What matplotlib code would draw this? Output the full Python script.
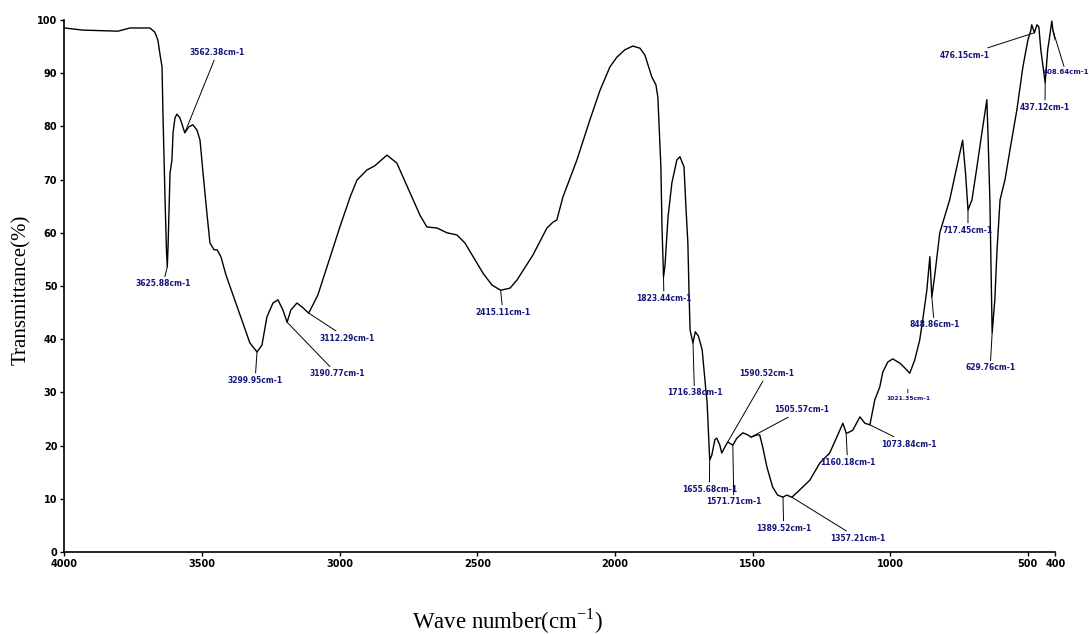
import numpy as np
import matplotlib
matplotlib.use('Agg')
import matplotlib.pyplot as plt

# FTIR spectrum, traced as (wavenumber, transmittance) pairs, high -> low cm-1
wavenumber = [4000, 3932, 3805, 3790, 3761, 3689, 3671, 3660, 3652, 3645,
              3642, 3634, 3629, 3625.88, 3623, 3616, 3609, 3605, 3598, 3591,
              3580, 3562.38, 3548, 3533, 3518, 3507, 3496, 3482, 3471, 3456,
              3445, 3431, 3413, 3387, 3351, 3326, 3299.95, 3282, 3264, 3242,
              3224, 3206, 3190.77, 3177, 3155, 3133, 3112.29, 3079, 3046, 2999,
              2962, 2937, 2901, 2872, 2828, 2792, 2744, 2708, 2683, 2646,
              2610, 2574, 2545, 2508, 2479, 2447, 2415.11, 2381, 2356, 2298,
              2247, 2225, 2211, 2189, 2138, 2091, 2054, 2018, 1993, 1964,
              1935, 1909, 1891, 1866, 1851, 1844, 1840, 1833, 1829, 1823.44,
              1818, 1807, 1793, 1775, 1764, 1749, 1742, 1735, 1731, 1727,
              1716.38, 1708, 1697, 1683, 1673, 1665, 1659, 1655.68, 1648, 1637,
              1630, 1619, 1612, 1601, 1590, 1579, 1571.71, 1557, 1535, 1517,
              1505.57, 1484, 1474, 1463, 1448, 1427, 1409, 1389.52, 1376, 1357.21,
              1328, 1292, 1256, 1220, 1194, 1172, 1160.18, 1154, 1136, 1110,
              1092, 1073.84, 1056, 1038, 1027, 1009, 991, 965, 947, 929,
              911, 893, 882, 867, 856, 848.86, 838, 820, 784, 758,
              737, 726, 717.45, 703, 685, 667, 649, 645, 638, 629.76,
              620, 612, 601, 583, 565, 540, 518, 500, 489, 486,
              476.15, 467, 460, 453, 437.12, 428, 420, 413, 408.64, 400]
transmittance = [98.5, 98.1, 97.9, 98.1, 98.5, 98.5, 97.7, 96.2, 93.4, 91.2,
                 83.1, 66.2, 56.8, 53.6, 57.7, 71.2, 73.7, 78.8, 81.6, 82.3,
                 81.6, 78.8, 79.9, 80.3, 79.3, 77.4, 71.2, 63.7, 58.1, 56.8,
                 56.8, 55.5, 52.1, 48.3, 43.0, 39.3, 37.6, 38.9, 44.2, 46.8,
                 47.4, 45.5, 43.2, 45.5, 46.8, 45.9, 44.9, 48.3, 53.6, 61.1,
                 66.7, 69.9, 71.8, 72.6, 74.6, 73.1, 67.5, 63.3, 61.1, 60.9,
                 60.0, 59.6, 58.1, 54.9, 52.4, 50.2, 49.2, 49.6, 51.1, 55.8,
                 60.9, 62.0, 62.4, 66.7, 73.7, 81.2, 86.8, 91.2, 93.0, 94.4,
                 95.1, 94.7, 93.4, 89.3, 87.8, 85.5, 80.6, 72.4, 61.1, 51.7,
                 53.9, 63.0, 69.4, 73.7, 74.3, 72.4, 64.8, 58.1, 49.2, 41.7,
                 39.3, 41.4, 40.6, 38.0, 32.3, 28.0, 21.1, 17.3, 18.2, 21.1,
                 21.4, 20.1, 18.6, 19.7, 20.7, 20.3, 20.1, 21.4, 22.4, 22.0,
                 21.6, 22.0, 22.0, 19.7, 16.0, 12.2, 10.7, 10.3, 10.7, 10.3,
                 11.7, 13.5, 16.7, 18.6, 21.6, 24.2, 22.4, 22.4, 22.9, 25.4,
                 24.2, 23.9, 28.6, 31.0, 33.8, 35.7, 36.3, 35.5, 34.6, 33.6,
                 36.1, 39.8, 43.6, 49.2, 55.5, 47.9, 52.1, 60.0, 66.2, 72.4,
                 77.4, 70.9, 64.3, 66.2, 72.4, 78.8, 85.0, 78.8, 66.2, 41.2,
                 47.4, 56.8, 66.2, 70.0, 75.6, 83.1, 91.2, 96.2, 98.1, 99.1,
                 97.6, 99.1, 98.7, 94.4, 88.2, 94.4, 97.2, 99.8, 98.0, 96.2]

# peak labels and the wavenumber each one points at
peak_labels = ['3625.88cm-1', '3562.38cm-1', '3299.95cm-1', '3190.77cm-1',
               '3112.29cm-1', '2415.11cm-1', '1823.44cm-1', '1716.38cm-1',
               '1655.68cm-1', '1571.71cm-1', '1590.52cm-1', '1505.57cm-1',
               '1389.52cm-1', '1357.21cm-1', '1160.18cm-1', '1073.84cm-1',
               '848.86cm-1', '717.45cm-1', '629.76cm-1', '476.15cm-1',
               '437.12cm-1', '408.64cm-1']
peak_wn = [3625.88, 3562.38, 3299.95, 3190.77, 3112.29, 2415.11, 1823.44,
           1716.38, 1655.68, 1571.71, 1590.52, 1505.57, 1389.52, 1357.21,
           1160.18, 1073.84, 848.86, 717.45, 629.76, 476.15, 437.12, 408.64]

x_ticks = [4000, 3500, 3000, 2500, 2000, 1500, 1000, 500, 400]
y_ticks = list(range(0, 101, 10))

# where each label box sits (data coords)
label_pos = [(3641, 50.4), (3445, 93.8), (3307, 32.3), (3010, 33.5),
             (2973, 40.2), (2407, 45.1), (1822, 47.7), (1711, 29.9),
             (1657, 11.8), (1568, 9.4), (1447, 33.5), (1321, 26.7),
             (1387, 4.5), (1117, 2.6), (1155, 16.9), (933, 20.3),
             (840, 42.7), (717.6, 60.5), (637, 34.6), (728, 93.4),
             (437.8, 83.6), (278, 90.2)]
label_align = ['center'] * 21 + ['right']
label_size = [5.5] * 21 + [5.0]

W, H = 1089, 634
fig = plt.figure(figsize=(W / 100, H / 100), dpi=100)
ax = fig.add_axes([64.3 / W, 1 - 552 / H, (1055.4 - 64.3) / W, (552 - 20) / H])

ax.plot(wavenumber, transmittance, color='k', lw=1.0)
ax.set_xlim(4000, 400)
ax.set_ylim(0, 100)

ax.set_xticks(x_ticks)
ax.set_xticklabels([str(t) for t in x_ticks])
ax.set_yticks(y_ticks)
ax.set_yticklabels([str(t) for t in y_ticks])
ax.tick_params(direction='out', length=3, width=1.0, labelsize=7, pad=2)
for lbl in ax.get_xticklabels() + ax.get_yticklabels():
    lbl.set_fontweight('bold')
for side in ('top', 'right'):
    ax.spines[side].set_visible(False)
for side in ('left', 'bottom'):
    ax.spines[side].set_linewidth(1.2)

# interpolation needs increasing x
wn_inc = np.array(wavenumber)[::-1]
tr_inc = np.array(transmittance)[::-1]

navy = '#16167a'
for text, wn, pos, ha, fs in zip(peak_labels, peak_wn, label_pos,
                                 label_align, label_size):
    t = np.interp(wn, wn_inc, tr_inc)
    ax.annotate(text, xy=(wn, t), xytext=pos, textcoords='data',
                ha=ha, va='center', fontsize=fs, fontweight='bold',
                color=navy, annotation_clip=False,
                arrowprops=dict(arrowstyle='-', color='k', lw=0.7,
                                shrinkA=0, shrinkB=0))

# faint marker left by the peak picker around 936 cm-1
ax.annotate('1021.35cm-1', xy=(936, 30.6), xytext=(936, 28.9),
            textcoords='data', ha='center', va='center', fontsize=4.3,
            fontweight='bold', color=navy,
            arrowprops=dict(arrowstyle='-', color='k', lw=0.6,
                            shrinkA=0, shrinkB=0))

serif = ['Liberation Serif', 'DejaVu Serif']
fig.text(21 / W, 1 - 290 / H, 'Transmittance(%)', rotation=90,
         ha='center', va='center', fontsize=15, family=serif)
fig.text(508 / W, 1 - 621 / H, 'Wave number(cm$^{\\mathregular{-1}}$)',
         ha='center', va='center', fontsize=16.5, family=serif)

fig.savefig('out.png', dpi=100)
